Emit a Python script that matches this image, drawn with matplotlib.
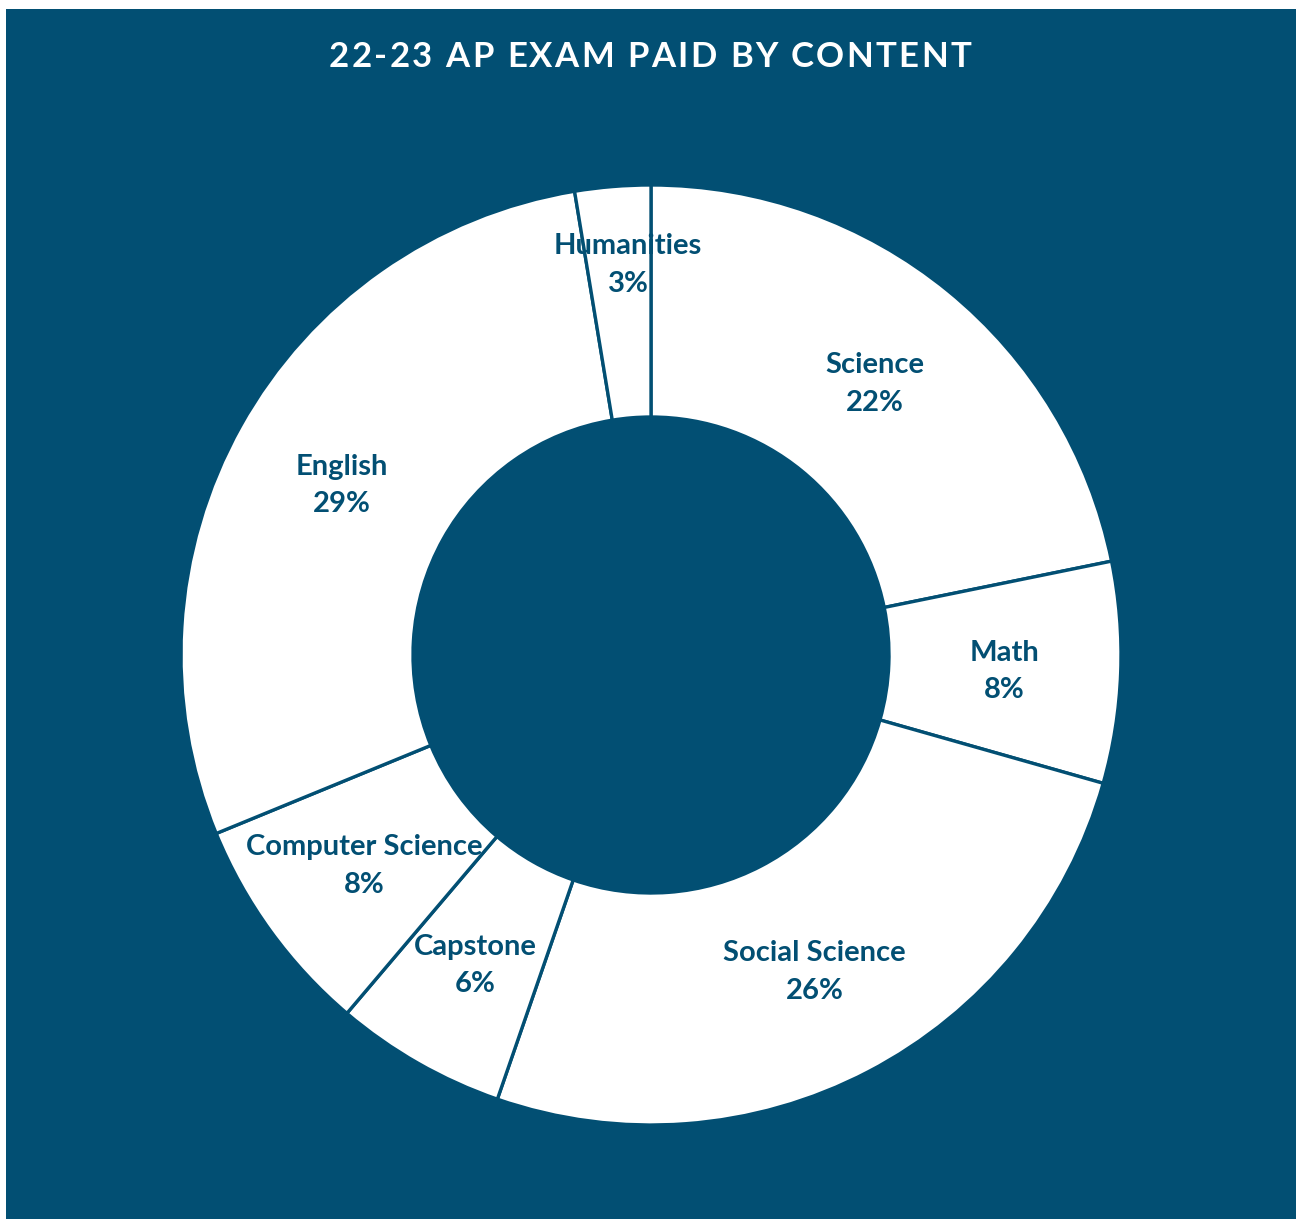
import matplotlib

matplotlib.use("Agg")
import matplotlib.pyplot as plt
import numpy as np
from matplotlib.patches import Rectangle

categories = ["Science", "Math", "Social Science", "Capstone",
              "Computer Science", "English", "Humanities"]
shares = [21.8, 7.6, 25.9, 5.9, 7.6, 28.6, 2.6]

title = "22-23 AP EXAM PAID BY CONTENT"
navy = "#024F73"
font = "Lato"

W, H = 1296, 1220
fig = plt.figure(figsize=(W / 100, H / 100), dpi=100)
fig.patch.set_facecolor("white")
ax = fig.add_axes([0, 0, 1, 1])
ax.set_xlim(0, W)
ax.set_ylim(0, H)
ax.set_aspect("equal")
ax.axis("off")

# dark panel behind everything
ax.add_patch(Rectangle((6, 1), W - 6, H - 10, facecolor=navy, edgecolor="none", zorder=0))

cx, cy = 651, H - 655
r_out, r_in = 470, 238

wedges, _ = ax.pie(
    shares,
    center=(cx, cy),
    radius=r_out,
    startangle=90,
    counterclock=False,
    colors=["white"] * len(shares),
    wedgeprops=dict(width=r_out - r_in, edgecolor=navy, linewidth=2.4),
)
ax.set_xlim(0, W)
ax.set_ylim(0, H)

for i, w in enumerate(wedges):
    mid = np.deg2rad((w.theta1 + w.theta2) / 2)
    r_lab = (r_out + r_in) / 2
    x = cx + r_lab * np.cos(mid)
    y = cy + r_lab * np.sin(mid) - 3
    if categories[i] == "Humanities":
        # small slice: label pushed outward like the original
        x, y = cx - 23, cy + 390
    ax.text(x, y, f"{categories[i]}\n{shares[i]:.0f}%", ha="center", va="center",
            color=navy, fontsize=21, fontweight="bold", family=font,
            linespacing=1.55, zorder=5)

# title with letter spacing: place characters one by one
renderer = fig.canvas.get_renderer()
tracking = 2.3
widths = []
for ch in title:
    t = ax.text(0, 0, ch if ch != " " else "n", fontsize=25, fontweight="bold", family=font)
    bb = t.get_window_extent(renderer)
    widths.append(bb.width * (0.45 if ch == " " else 1.0))
    t.remove()
total = sum(widths) + tracking * (len(title) - 1)
x = W / 2 + 2 - total / 2
for ch, wd in zip(title, widths):
    ax.text(x, H - 57, ch, ha="left", va="center", color="white",
            fontsize=25, fontweight="bold", family=font)
    x += wd + tracking

fig.savefig("out.png", dpi=100)
